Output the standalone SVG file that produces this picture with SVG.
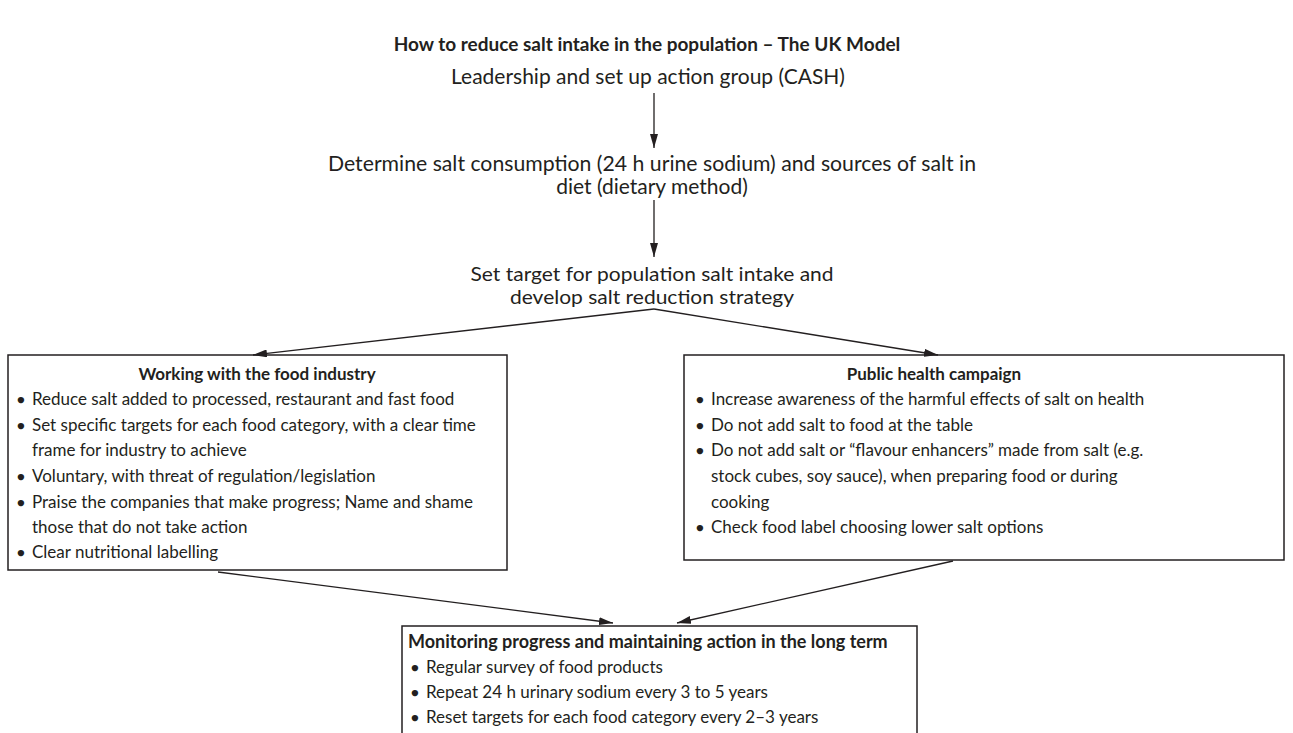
<svg xmlns="http://www.w3.org/2000/svg" width="1293" height="733" viewBox="0 0 1293 733">
<style>
text{font-family:Lato,"Open Sans","Liberation Sans",sans-serif;font-size:17px;fill:#231f20}
.b{font-weight:bold}
.c{text-anchor:middle}
.m{font-size:21px}
.s{font-size:20px}
.d{font-size:13px}
.box{fill:#fff;stroke:#231f20;stroke-width:1.5}
.ln{fill:none;stroke:#231f20;stroke-width:1.3}
</style>
<defs>
<marker id="ah" viewBox="0 0 14 8" refX="14" refY="4" markerWidth="14" markerHeight="8" markerUnits="userSpaceOnUse" orient="auto">
<path d="M0,0 L14,4 L0,8 Z" fill="#231f20"/>
</marker>
</defs>
<rect width="1293" height="733" fill="#fff"/>
<g id="title"><text class="b c" x="647" y="51" style="font-size:19px">How to reduce salt intake in the population – The UK Model</text></g>
<g id="n1"><text class="c m" x="648" y="84">Leadership and set up action group (CASH)</text></g>
<g id="n2"><text class="c m" x="652" y="171" textLength="648" lengthAdjust="spacingAndGlyphs">Determine salt consumption (24 h urine sodium) and sources of salt in</text><text class="c m" x="652" y="194">diet (dietary method)</text></g>
<g id="n3"><text class="c s" x="652" y="281" textLength="363" lengthAdjust="spacingAndGlyphs">Set target for population salt intake and</text><text class="c s" x="652" y="304" textLength="284" lengthAdjust="spacingAndGlyphs">develop salt reduction strategy</text></g>
<g id="n4">
<rect class="box" x="8" y="355" width="499" height="215"/>
<text class="b c" x="257" y="380">Working with the food industry</text>
<text class="d" x="17" y="404">●</text><text x="32" y="405">Reduce salt added to processed, restaurant and fast food</text>
<text class="d" x="17" y="430">●</text><text x="32" y="431">Set specific targets for each food category, with a clear time</text>
<text x="32" y="456">frame for industry to achieve</text>
<text class="d" x="17" y="481">●</text><text x="32" y="482">Voluntary, with threat of regulation/legislation</text>
<text class="d" x="17" y="507">●</text><text x="32" y="508">Praise the companies that make progress; Name and shame</text>
<text x="32" y="533">those that do not take action</text>
<text class="d" x="17" y="557">●</text><text x="32" y="558">Clear nutritional labelling</text>
</g>
<g id="n5">
<rect class="box" x="684" y="355" width="600" height="205"/>
<text class="b c" x="934" y="380">Public health campaign</text>
<text class="d" x="696" y="404">●</text><text x="711" y="405">Increase awareness of the harmful effects of salt on health</text>
<text class="d" x="696" y="430">●</text><text x="711" y="431">Do not add salt to food at the table</text>
<text class="d" x="696" y="455">●</text><text x="711" y="456">Do not add salt or “flavour enhancers” made from salt (e.g.</text>
<text x="711" y="482">stock cubes, soy sauce), when preparing food or during</text>
<text x="711" y="508">cooking</text>
<text class="d" x="696" y="532">●</text><text x="711" y="533">Check food label choosing lower salt options</text>
</g>
<g id="n6">
<rect class="box" x="402" y="626" width="515" height="120"/>
<text class="b" x="408" y="648" style="font-size:18px">Monitoring progress and maintaining action in the long term</text>
<text class="d" x="411" y="672">●</text><text x="426" y="673">Regular survey of food products</text>
<text class="d" x="411" y="697">●</text><text x="426" y="698">Repeat 24 h urinary sodium every 3 to 5 years</text>
<text class="d" x="411" y="722">●</text><text x="426" y="723">Reset targets for each food category every 2–3 years</text>
</g>
<g id="connectors">
<line class="ln" x1="654" y1="93" x2="654" y2="148" marker-end="url(#ah)"/>
<line class="ln" x1="654" y1="200" x2="654" y2="257" marker-end="url(#ah)"/>
<line class="ln" x1="654" y1="309" x2="253" y2="355" marker-end="url(#ah)"/>
<line class="ln" x1="654" y1="309" x2="938" y2="355" marker-end="url(#ah)"/>
<line class="ln" x1="218" y1="572" x2="613" y2="623" marker-end="url(#ah)"/>
<line class="ln" x1="953" y1="561" x2="677" y2="623" marker-end="url(#ah)"/>
</g>
</svg>
